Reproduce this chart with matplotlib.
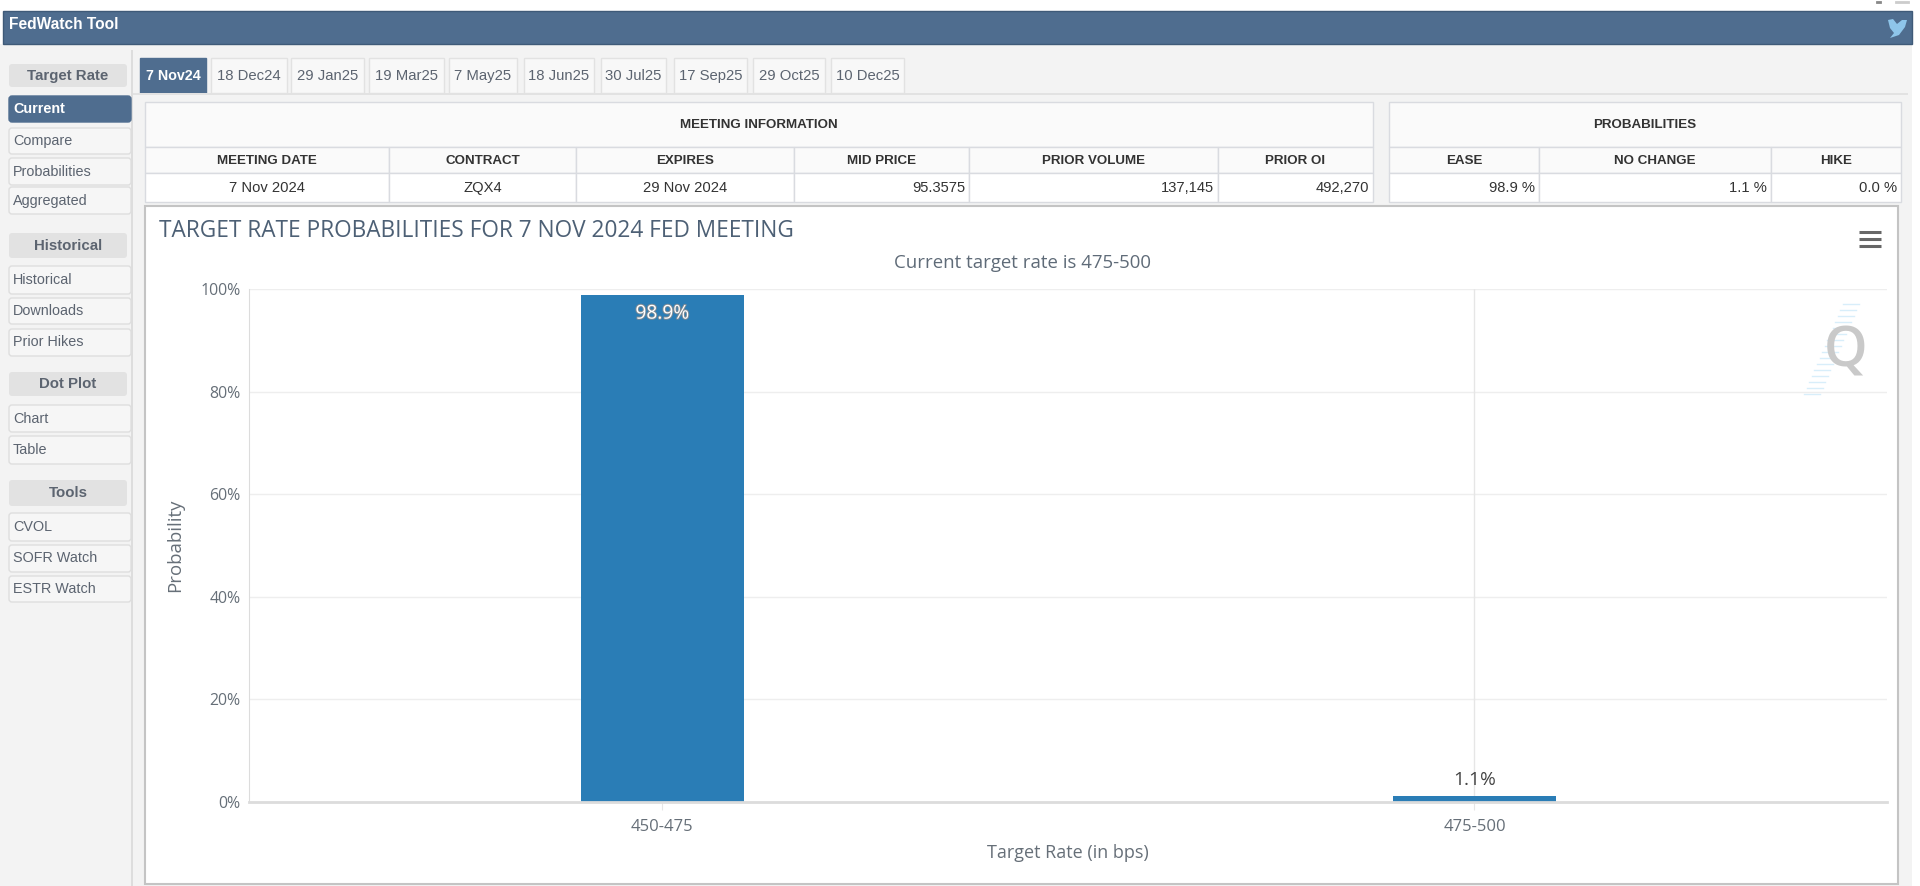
import matplotlib
matplotlib.use("Agg")
import matplotlib.pyplot as plt
import matplotlib.patheffects as pe
from matplotlib.patches import Rectangle, FancyBboxPatch, Polygon

# chart data
rates = ["450-475", "475-500"]
probs = [98.9, 1.1]
prob_labels = ["98.9%", "1.1%"]
y_ticks = [0, 20, 40, 60, 80, 100]

# page text
tabs = ["7 Nov24", "18 Dec24", "29 Jan25", "19 Mar25", "7 May25", "18 Jun25",
        "30 Jul25", "17 Sep25", "29 Oct25", "10 Dec25"]
side_groups = ["Target Rate", "Historical", "Dot Plot", "Tools"]
side_items = ["Current", "Compare", "Probabilities", "Aggregated",
              "Historical", "Downloads", "Prior Hikes",
              "Chart", "Table",
              "CVOL", "SOFR Watch", "ESTR Watch"]
info_head = ["MEETING DATE", "CONTRACT", "EXPIRES", "MID PRICE", "PRIOR VOLUME", "PRIOR OI"]
info_vals = ["7 Nov 2024", "ZQX4", "29 Nov 2024", "95.3575", "137,145", "492,270"]
prob_head = ["EASE", "NO CHANGE", "HIKE"]
prob_vals = ["98.9 %", "1.1 %", "0.0 %"]

# layout, in pixels of the page
tab_x = [(140, 206), (211, 287), (291, 364), (369, 444), (449, 517),
         (524, 594), (601, 666), (674, 747), (753, 825), (831, 904)]
group_y = [(64, 87), (233, 258), (372, 396), (480, 506)]
item_y = [(96, 122), (128, 154), (158, 185), (187, 214),
          (266, 294), (298, 324), (329, 356),
          (405, 432), (436, 464),
          (513, 541), (545, 572), (576, 602)]
info_x = [145, 389, 576, 794, 969, 1218, 1373]
prob_x = [1389, 1539, 1771, 1901]
row_y = [102, 147, 173, 202]

NAVY = "#4f6d8f"
PANEL = "#f3f3f3"
LINE = "#d9dbe0"
TEXT = "#333333"
SIDE = "#5c6470"
CHART = "#666f78"

plt.rcParams["font.family"] = ["Liberation Sans", "DejaVu Sans"]

fig = plt.figure(figsize=(19.2, 8.86), dpi=100, facecolor="white")

page = fig.add_axes([0, 0, 1, 1], zorder=0)
page.set_xlim(0, 1920)
page.set_ylim(886, 0)
page.axis("off")


def box(x0, y0, x1, y1, fc, ec="none", lw=1.0):
    page.add_patch(Rectangle((x0, y0), x1 - x0, y1 - y0, fc=fc, ec=ec, lw=lw))


def rbox(x0, y0, x1, y1, fc, ec="none", lw=1.0):
    page.add_patch(FancyBboxPatch((x0 + 2, y0 + 2), x1 - x0 - 4, y1 - y0 - 4,
                                  boxstyle="round,pad=2,rounding_size=3",
                                  fc=fc, ec=ec, lw=lw))


# header and grey background
box(0, 44, 1912, 886, PANEL)
box(3, 11, 1912, 44, NAVY, ec="#3f5a78")
page.text(9, 24, "FedWatch Tool", color="white", fontsize=11.2, fontweight="bold",
          va="center", ha="left")
page.add_patch(Polygon([(1888, 20), (1893, 19), (1897, 24), (1902, 20), (1907, 20),
                        (1905, 27), (1899, 35), (1890, 38), (1894, 33), (1890, 28)],
                       fc="#8ec5ea", ec="none"))
page.plot([1877, 1880], [2, 2], color="#888888", lw=2)
page.plot([1896, 1908], [2, 2], color="#cccccc", lw=2)

# left menu
box(131, 50, 133, 886, "#dddddd")
for label, (y0, y1) in zip(side_groups, group_y):
    rbox(9, y0, 127, y1, "#e2e2e2")
    page.text(68, (y0 + y1) / 2, label, color=SIDE, fontsize=10.8, fontweight="bold",
              ha="center", va="center")
for i, (label, (y0, y1)) in enumerate(zip(side_items, item_y)):
    active = i == 0
    rbox(9, y0, 131, y1, NAVY if active else "#f6f6f6", ec=NAVY if active else "#dedede")
    page.text(13, (y0 + y1) / 2, label, color="white" if active else SIDE,
              fontsize=10.4, fontweight="bold" if active else "normal",
              ha="left", va="center")

# tabs
for i, (label, (x0, x1)) in enumerate(zip(tabs, tab_x)):
    active = i == 0
    box(x0, 58, x1, 93, NAVY if active else "#f8f8f8", ec=NAVY if active else "#e2e2e2")
    page.text((x0 + x1) / 2, 75.5, label, color="white" if active else SIDE,
              fontsize=10.3 if active else 10.7,
              fontweight="bold" if active else "normal", ha="center", va="center")
box(133, 93, 1908, 95, "#e2e2e2")


def table(title, xs, heads, vals, right_from):
    box(xs[0], row_y[0], xs[-1], row_y[1], "#fafafa", ec=LINE)
    page.text((xs[0] + xs[-1]) / 2, (row_y[0] + row_y[1]) / 2, title, color=TEXT,
              fontsize=9.6, fontweight="bold", ha="center", va="center")
    for j, (h, v) in enumerate(zip(heads, vals)):
        box(xs[j], row_y[1], xs[j + 1], row_y[2], "#fafafa", ec=LINE)
        box(xs[j], row_y[2], xs[j + 1], row_y[3], "white", ec=LINE)
        mid = (xs[j] + xs[j + 1]) / 2
        page.text(mid, (row_y[1] + row_y[2]) / 2 + 1, h, color=TEXT, fontsize=9.6,
                  fontweight="bold", ha="center", va="center")
        if j >= right_from:
            page.text(xs[j + 1] - 4, (row_y[2] + row_y[3]) / 2, v, color=TEXT, fontsize=10.6,
                      ha="right", va="center")
        else:
            page.text(mid, (row_y[2] + row_y[3]) / 2, v, color=TEXT, fontsize=10.6,
                      ha="center", va="center")


table("MEETING INFORMATION", info_x, info_head, info_vals, 3)
table("PROBABILITIES", prob_x, prob_head, prob_vals, 0)

# chart panel
box(145, 206, 1898, 884, "white", ec="#c4c4c4", lw=1.5)
page.text(159, 231, "TARGET RATE PROBABILITIES FOR 7 NOV 2024 FED MEETING", color="#4d6075",
          fontsize=16.3, family="Open Sans", ha="left", va="center")
page.text(1022, 263, "Current target rate is 475-500", color="#5f6b78", fontsize=13.4,
          family="Open Sans", ha="center", va="center")
for y in [232, 239, 246]:
    page.plot([1859, 1881], [y, y], color="#666666", lw=2.2, solid_capstyle="butt")

# watermark
for k in range(16):
    mid_x = 1806 + k * 3
    page.plot([mid_x - 2 - k * 0.4, mid_x + 14 - k * 0.4], [394 - k * 6, 394 - k * 6],
              color="#d8eefa", lw=1)
page.text(1846, 353, "Q", color="#c9c9c9", fontsize=40, family="Open Sans",
          fontweight="semibold", ha="center", va="center")

# bar chart
ax = fig.add_axes([249 / 1920, 1 - 802 / 886, (1887 - 249) / 1920, (802 - 289) / 886], zorder=1)
ax.patch.set_alpha(0)
ax.axvline(1, color="#e6e6e6", lw=1, zorder=1)
bars = ax.bar(range(len(rates)), probs, width=0.2, color="#2a7db6", zorder=2)
ax.set_xlim(-0.509, 1.508)
ax.set_ylim(0, 100)
ax.set_yticks(y_ticks)
ax.set_yticklabels([f"{t}%" for t in y_ticks])
ax.set_xticks(range(len(rates)))
ax.set_xticklabels(rates)
ax.grid(axis="y", color="#eeeeee", lw=1)
ax.set_axisbelow(True)
for side in ["top", "right"]:
    ax.spines[side].set_visible(False)
ax.spines["left"].set_color("#dcdcdc")
ax.spines["bottom"].set_color("#dcdcdc")
ax.spines["bottom"].set_linewidth(2)
ax.tick_params(axis="y", length=0, labelsize=11.4, labelcolor=CHART, pad=6)
ax.tick_params(axis="x", length=6, color="#e6e6e6", labelsize=12, labelcolor=CHART, pad=6)
for t in ax.get_xticklabels() + ax.get_yticklabels():
    t.set_family("Open Sans")
ax.set_xlabel("Target Rate (in bps)", color=CHART, fontsize=13, family="Open Sans", labelpad=7)
ax.set_ylabel("Probability", color=CHART, fontsize=13.4, family="Open Sans", labelpad=12)

ax.text(0, probs[0] - 3.7, prob_labels[0], color="white", fontsize=13.8, family="Open Sans",
        ha="center", va="center", zorder=3,
        path_effects=[pe.withStroke(linewidth=1.4, foreground="#7d8a94")])
ax.text(1, probs[1] + 3.2, prob_labels[1], color="#444444", fontsize=13.8, family="Open Sans",
        ha="center", va="center", zorder=3)

fig.savefig("out.png", dpi=100)
